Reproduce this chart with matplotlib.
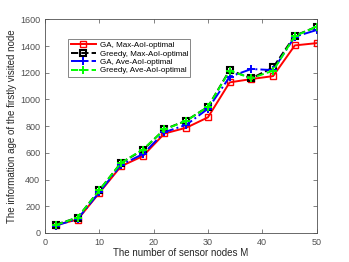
import matplotlib
matplotlib.use("Agg")
import matplotlib.pyplot as plt

M = [2, 6, 10, 14, 18, 22, 26, 30, 34, 38, 42, 46, 50]
gaMax = [60, 100, 300, 500, 575, 745, 788, 866, 1128, 1153, 1175, 1405, 1422]
greedyMax = [62, 115, 320, 525, 620, 777, 841, 945, 1220, 1158, 1240, 1478, 1545]
gaAve = [55, 105, 305, 510, 590, 755, 810, 930, 1170, 1228, 1220, 1470, 1520]
greedyAve = [60, 115, 320, 525, 625, 775, 840, 945, 1215, 1160, 1215, 1475, 1545]

plt.rcParams['font.family'] = ['Liberation Sans', 'DejaVu Sans']

fig = plt.figure(figsize=(3.49, 2.62), dpi=100)
ax = fig.add_axes([0.129, 0.111, 0.778, 0.815])

ax.plot(M, gaMax, color='#ff0000', lw=1.4, marker='s', ms=4.5, mfc='none', mew=1.0,
        label="GA, Max-AoI-optimal")
ax.plot(M, greedyMax, color='black', lw=1.4, ls='--', marker='s', ms=4.5, mfc='none', mew=1.5,
        label="Greedy, Max-AoI-optimal")
ax.plot(M, gaAve, color='#0000ff', lw=1.4, ls='-.', marker='+', ms=6, mew=1.4,
        label="GA, Ave-AoI-optimal")
ax.plot(M, greedyAve, color='#00ff00', lw=1.4, ls='--', marker='+', ms=6, mew=1.4,
        label="Greedy, Ave-AoI-optimal")

ax.set_xlim(0, 50)
ax.set_ylim(0, 1600)
ax.set_xticks([0, 10, 20, 30, 40, 50])
ax.set_yticks(range(0, 1601, 200))
ax.tick_params(direction='in', top=True, right=True, labelsize=6.5, colors='#505050',
               length=3, width=0.5)
for s in ax.spines.values():
    s.set_color('#505050')
    s.set_linewidth(0.6)

ax.set_xlabel("The number of sensor nodes M", fontsize=7, color='#262626', labelpad=1)
ax.set_ylabel("The information age of the firstly visited node", fontsize=7,
              color='#262626', labelpad=2)

leg = ax.legend(loc='upper left', bbox_to_anchor=(0.085, 0.908), borderaxespad=0,
                fontsize=5.8, frameon=True, fancybox=False, edgecolor='#505050',
                handlelength=3.2, borderpad=0.3, labelspacing=0.1, handletextpad=0.4)
leg.get_frame().set_linewidth(0.6)

fig.savefig("out.png", dpi=100)
